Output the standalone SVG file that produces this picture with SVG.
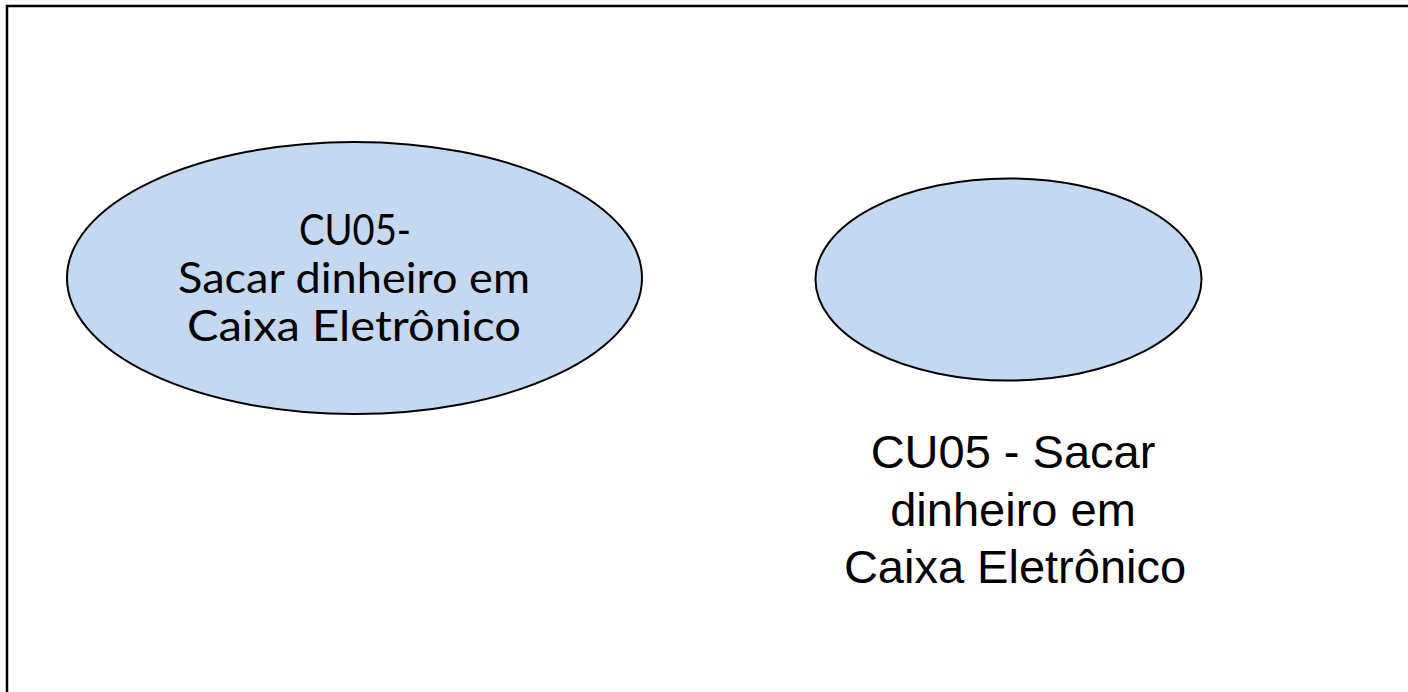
<svg xmlns="http://www.w3.org/2000/svg" width="1408" height="692" viewBox="0 0 1408 692">
<style>
.uc{fill:#c5d8ef;stroke:#000;stroke-width:2}
.t1{font-family:Lato,"Open Sans","Liberation Sans",sans-serif;font-size:42px;fill:#000;text-anchor:middle}
.t2{font-family:"Liberation Sans",Arial,sans-serif;font-size:47px;fill:#000;text-anchor:middle}
</style>
<rect width="1408" height="692" fill="#fff"/>
<g id="frame">
<path d="M7 700 V6 H1420" fill="none" stroke="#000" stroke-width="2.5"/>
</g>
<g id="uc-left">
<ellipse class="uc" cx="354.5" cy="278" rx="287.5" ry="136"/>
<text class="t1" x="355" y="245" textLength="112" lengthAdjust="spacingAndGlyphs">CU05-</text>
<text class="t1" x="354" y="293" textLength="352" lengthAdjust="spacingAndGlyphs">Sacar dinheiro em</text>
<text class="t1" x="354" y="341" textLength="334" lengthAdjust="spacingAndGlyphs">Caixa Eletrônico</text>
</g>
<g id="uc-right">
<ellipse class="uc" cx="1008.5" cy="279.5" rx="193" ry="101"/>
<text class="t2" x="1013" y="468">CU05 - Sacar</text>
<text class="t2" x="1013" y="526">dinheiro em</text>
<text class="t2" x="1015" y="583">Caixa Eletrônico</text>
</g>
<g id="connectors"></g>
</svg>
